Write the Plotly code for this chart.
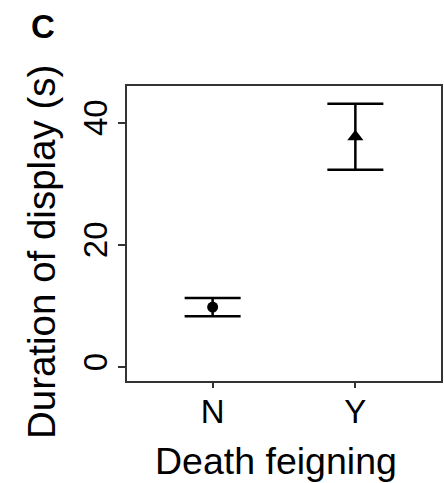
import plotly.graph_objects as go

categories = ["N", "Y"]
means = [9.8, 37.7]
upper_err = [1.5, 5.4]
lower_err = [1.5, 5.4]
symbols = ["circle", "triangle-up"]
marker_sizes = [11, 14]
y_ticks = [0, 20, 40]

FONT = "Liberation Sans, Arial, Helvetica, sans-serif"

fig = go.Figure()
for i, c in enumerate(categories):
    fig.add_trace(go.Scatter(
        x=[c], y=[means[i]], mode="markers",
        marker=dict(symbol=symbols[i], size=marker_sizes[i], color="black"),
        error_y=dict(type="data", symmetric=False, array=[upper_err[i]],
                     arrayminus=[lower_err[i]], color="black", thickness=2.5, width=28),
        showlegend=False,
    ))

fig.update_layout(
    width=444, height=483,
    margin=dict(l=127, r=1, t=86, b=102),
    paper_bgcolor="white", plot_bgcolor="white",
    font=dict(family=FONT, color="black"),
    xaxis=dict(type="category", range=[-0.6, 1.6], showgrid=False, zeroline=False,
               showline=True, mirror=True, linecolor="#333", linewidth=1.5,
               ticks="outside", ticklen=5, tickwidth=1.5, tickcolor="#333",
               ticklabelstandoff=-4,
               tickfont=dict(size=33, family=FONT, color="black")),
    yaxis=dict(range=[-2.3, 46], tickvals=y_ticks, showgrid=False, zeroline=False,
               showline=True, mirror=True, linecolor="#333", linewidth=1.5,
               ticks="outside", ticklen=7, tickwidth=1.5, tickcolor="#333",
               tickangle=-90, ticklabelstandoff=-2,
               tickfont=dict(size=33, family=FONT, color="black")),
    annotations=[
        dict(text="Duration of display (s)", textangle=-90, xref="paper", yref="paper",
             x=0, xshift=-86, y=0.437, xanchor="center", yanchor="middle",
             showarrow=False, font=dict(size=38.5, family=FONT, color="black")),
        dict(text="Death feigning", xref="paper", yref="paper",
             x=0.475, y=-0.271, xanchor="center", yanchor="middle",
             showarrow=False, font=dict(size=37.5, family=FONT, color="black")),
        dict(text="<b>C</b>", xref="paper", yref="paper",
             x=-0.269, y=1.203, xanchor="center", yanchor="middle",
             showarrow=False, font=dict(size=33, family=FONT, color="black")),
    ],
)

fig.write_html("out.html", config={"displayModeBar": False},
               post_script="document.body.style.margin='0';document.body.style.overflow='hidden';")
